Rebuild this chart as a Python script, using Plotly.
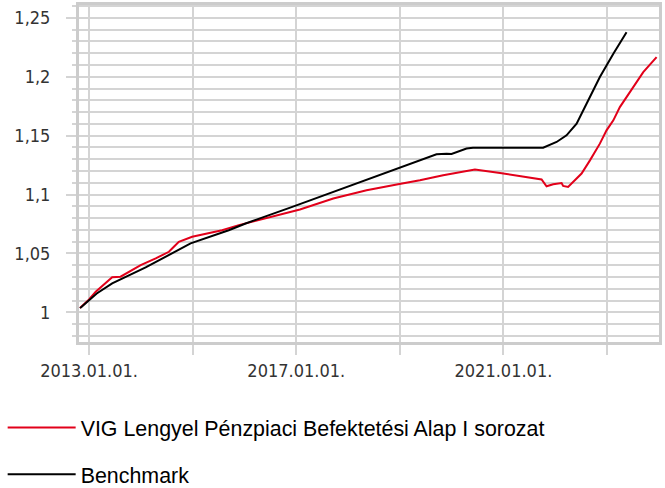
import plotly.graph_objects as go

# ---- data ----
fund_name = "VIG Lengyel Pénzpiaci Befektetési Alap I sorozat"
bench_name = "Benchmark"

fund_dates = ["2012-10-29", "2013-01-01", "2013-02-17", "2013-04-27", "2013-06-13", "2013-08-11",
              "2013-10-09", "2013-12-31", "2014-04-16", "2014-07-18", "2014-08-22", "2014-09-26",
              "2014-12-29", "2015-04-03", "2015-07-28", "2015-11-23", "2016-05-29", "2016-12-04",
              "2017-01-27", "2017-09-19", "2018-05-12", "2018-12-20", "2019-05-23", "2019-11-03",
              "2020-06-14", "2020-12-08", "2021-09-03", "2021-09-27", "2021-11-01", "2021-12-18",
              "2022-02-15", "2022-02-26", "2022-04-02", "2022-05-08", "2022-07-06", "2022-09-03",
              "2022-11-12", "2022-12-29", "2023-02-15", "2023-04-02", "2023-07-05", "2023-09-14",
              "2023-12-17"]
fund_values = [1.0036, 1.0110, 1.0175, 1.0246, 1.0297, 1.0302,
               1.0344, 1.0401, 1.0458, 1.0514, 1.0556, 1.0598,
               1.0641, 1.0669, 1.0697, 1.0740, 1.0797, 1.0853,
               1.0873, 1.0966, 1.1036, 1.1087, 1.1121, 1.1164,
               1.1212, 1.1183, 1.1136, 1.1128, 1.1070, 1.1087,
               1.1098, 1.1073, 1.1064, 1.1107, 1.1178, 1.1290,
               1.1432, 1.1545, 1.1630, 1.1742, 1.1912, 1.2039,
               1.2166]

bench_dates = ["2012-10-29", "2012-11-10", "2013-02-24", "2013-06-13", "2014-02-04", "2014-12-18",
               "2015-09-13", "2016-01-10", "2016-12-04", "2017-08-08", "2018-12-20", "2019-09-17",
               "2019-11-27", "2020-01-01", "2020-04-16", "2020-05-31", "2021-10-08", "2022-01-11",
               "2022-03-22", "2022-06-01", "2022-08-10", "2022-11-12", "2023-02-15", "2023-05-19"]
bench_values = [1.0036, 1.0047, 1.0160, 1.0246, 1.0381, 1.0585,
                1.0697, 1.0754, 1.0895, 1.1003, 1.1220, 1.1342,
                1.1347, 1.1345, 1.1390, 1.1398, 1.1398, 1.1446,
                1.1503, 1.1602, 1.1771, 1.1997, 1.2195, 1.2378]

x_tick_vals = ["2013-01-01", "2015-01-01", "2017-01-01", "2019-01-01", "2021-01-01", "2023-01-01"]
x_tick_text = ["2013.01.01.", "", "2017.01.01.", "", "2021.01.01.", ""]

# ---- figure ----
fig = go.Figure()
fig.add_trace(go.Scatter(x=fund_dates, y=fund_values, mode="lines", name=fund_name,
                         legendgroup="a",
                         line=dict(color="#e2001a", width=2)))
fig.add_trace(go.Scatter(x=bench_dates, y=bench_values, mode="lines", name=bench_name,
                         legendgroup="b",
                         line=dict(color="#000000", width=2)))

grid = "#d4d4d4"
tickfont = dict(family="DejaVu Sans Condensed, DejaVu Sans", size=18, color="#333333")

fig.update_layout(
    width=665, height=488,
    margin=dict(l=79, r=6, t=5, b=146, autoexpand=False),
    paper_bgcolor="white", plot_bgcolor="white",
    separators=", ",
    showlegend=True,
    legend=dict(
        xref="container", yref="container",
        x=0.004, y=(488 - 407) / 488, xanchor="left", yanchor="top",
        orientation="v", traceorder="grouped", tracegroupgap=16,
        itemwidth=68,
        font=dict(family="Liberation Sans, Arial", size=21.4, color="#000000"),
        bgcolor="rgba(0,0,0,0)",
    ),
    xaxis=dict(
        type="date",
        range=["2012-10-22", "2024-01-03"],
        tickmode="array", tickvals=x_tick_vals, ticktext=x_tick_text,
        tickangle=0,
        showgrid=True, gridcolor=grid, gridwidth=2,
        ticks="outside", ticklen=10, tickwidth=2, tickcolor=grid,
        showline=True, linecolor="#cccccc", linewidth=3, mirror=True,
        tickfont=tickfont, zeroline=False,
    ),
    yaxis=dict(
        range=[0.9748, 1.2609],
        tick0=1, dtick=0.05,
        showgrid=True, gridcolor=grid, gridwidth=2,
        ticks="outside", ticklen=10, tickwidth=2, tickcolor=grid,
        ticklabelstandoff=12,
        minor=dict(dtick=0.01, tick0=1, showgrid=True, gridcolor=grid, gridwidth=2,
                   ticks="outside", ticklen=4, tickwidth=2, tickcolor=grid),
        showline=True, linecolor="#cccccc", linewidth=3, mirror=True,
        tickfont=tickfont, zeroline=False,
    ),
)

fig.write_html("out.html",
               config={"displayModeBar": False},
               post_script="document.body.style.margin='0';document.body.style.overflow='hidden';")
